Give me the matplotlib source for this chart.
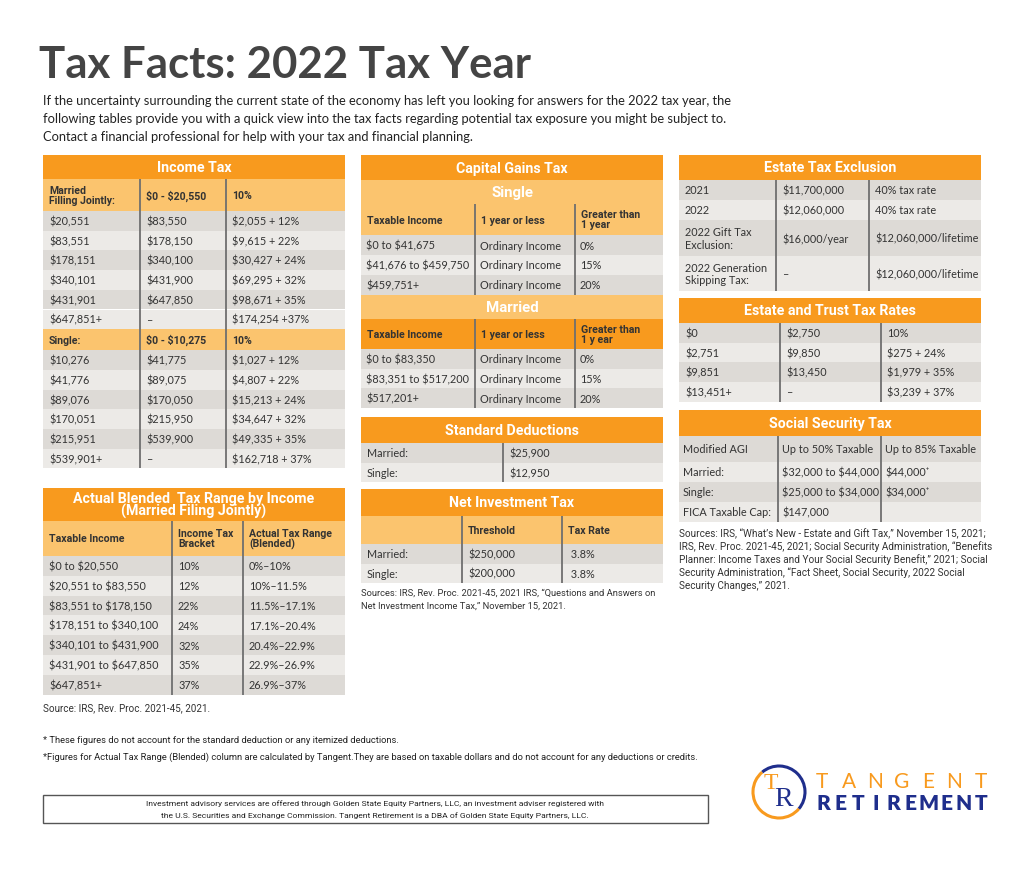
import matplotlib
matplotlib.use("Agg")
import matplotlib.pyplot as plt
from matplotlib.patches import Rectangle, Arc

plt.rcParams["text.parse_math"] = False

# ---------------- data ----------------
title = "Tax Facts: 2022 Tax Year"
intro = ["If the uncertainty surrounding the current state of the economy has left you looking for answers for the 2022 tax year, the",
         "following tables provide you with a quick view into the tax facts regarding potential tax exposure you might be subject to.",
         "Contact a financial professional for help with your tax and financial planning."]

income_married_head = ["Married\nFilling Jointly:", "$0 - $20,550", "10%"]
income_married_rows = [["$20,551", "$83,550", "$2,055 + 12%"],
                       ["$83,551", "$178,150", "$9,615 + 22%"],
                       ["$178,151", "$340,100", "$30,427 + 24%"],
                       ["$340,101", "$431,900", "$69,295 + 32%"],
                       ["$431,901", "$647,850", "$98,671 + 35%"],
                       ["$647,851+", "\u2013", "$174,254 +37%"]]
income_single_head = ["Single:", "$0 - $10,275", "10%"]
income_single_rows = [["$10,276", "$41,775", "$1,027 + 12%"],
                      ["$41,776", "$89,075", "$4,807 + 22%"],
                      ["$89,076", "$170,050", "$15,213 + 24%"],
                      ["$170,051", "$215,950", "$34,647 + 32%"],
                      ["$215,951", "$539,900", "$49,335 + 35%"],
                      ["$539,901+", "\u2013", "$162,718 + 37%"]]

blended_title = "Actual Blended  Tax Range by Income\n(Married Filing Jointly)"
blended_cols = ["Taxable Income", "Income Tax\nBracket", "Actual Tax Range\n(Blended)"]
blended_rows = [["$0 to $20,550", "10%", "0%\u201310%"],
                ["$20,551 to $83,550", "12%", "10%\u201311.5%"],
                ["$83,551 to $178,150", "22%", "11.5%\u201317.1%"],
                ["$178,151 to $340,100", "24%", "17.1%\u201320.4%"],
                ["$340,101 to $431,900", "32%", "20.4%\u201322.9%"],
                ["$431,901 to $647,850", "35%", "22.9%\u201326.9%"],
                ["$647,851+", "37%", "26.9%\u201337%"]]

cg_single_cols = ["Taxable Income", "1 year or less", "Greater than\n1 year"]
cg_single_rows = [["$0 to $41,675", "Ordinary Income", "0%"],
                  ["$41,676 to $459,750", "Ordinary Income", "15%"],
                  ["$459,751+", "Ordinary Income", "20%"]]
cg_married_cols = ["Taxable Income", "1 year or less", "Greater than\n1 y ear"]
cg_married_rows = [["$0 to $83,350", "Ordinary Income", "0%"],
                   ["$83,351 to $517,200", "Ordinary Income", "15%"],
                   ["$517,201+", "Ordinary Income", "20%"]]

std_rows = [["Married:", "$25,900"], ["Single:", "$12,950"]]

nii_cols = ["", "Threshold", "Tax Rate"]
nii_rows = [["Married:", "$250,000", " 3.8%"], ["Single:", "$200,000", " 3.8%"]]

estate_rows = [["2021", "$11,700,000", "40% tax rate"],
               ["2022", "$12,060,000", "40% tax rate"],
               ["2022 Gift Tax\nExclusion:", "$16,000/year", "$12,060,000/lifetime"],
               ["2022 Generation\nSkipping Tax:", "\u2013", "$12,060,000/lifetime"]]

trust_rows = [["$0", "$2,750", "10%"],
              ["$2,751", "$9,850", "$275 + 24%"],
              ["$9,851", "$13,450", "$1,979 + 35%"],
              ["$13,451+", "\u2013", "$3,239 + 37%"]]

ss_rows = [["Modified AGI", "Up to 50% Taxable", "Up to 85% Taxable"],
           ["Married:", "$32,000 to $44,000", "$44,000\u207a"],
           ["Single:", "$25,000 to $34,000", "$34,000\u207a"],
           ["FICA Taxable Cap:", "$147,000", ""]]

src_blended = "Source: IRS, Rev. Proc. 2021-45, 2021."
src_nii = ["Sources: IRS, Rev. Proc. 2021-45, 2021 IRS, \u201cQuestions and Answers on",
           "Net Investment Income Tax,\u201d November 15, 2021."]
src_ss = ["Sources: IRS, \u201cWhat\u2019s New - Estate and Gift Tax,\u201d November 15, 2021;",
          "IRS, Rev. Proc. 2021-45, 2021; Social Security Administration, \u201cBenefits",
          "Planner: Income Taxes and Your Social Security Benefit,\u201d 2021; Social",
          "Security Administration, \u201cFact Sheet, Social Security, 2022 Social",
          "Security Changes,\u201d 2021."]
notes = ["* These figures do not account for the standard deduction or any itemized deductions.",
         "*Figures for Actual Tax Range (Blended) column are calculated by Tangent.They are based on taxable dollars and do not account for any deductions or credits."]
disclaimer = ["Investment advisory services are offered through Golden State Equity Partners, LLC, an investment adviser registered with",
              "the U.S. Securities and Exchange Commission. Tangent Retirement is a DBA of Golden State Equity Partners, LLC."]
logo_top = "TANGENT"
logo_bottom = "RETIREMENT"

# ---------------- style ----------------
ORANGE = "#F89A1E"
LIGHT = "#FBC46E"
DARK_ROW = "#DDDAD6"
LIGHT_ROW = "#ECEAE7"
TXT = "#333333"
DIV = "#6f6f6f"
NAVY = "#1F2E8C"

BODY = ["Lato", "DejaVu Sans"]
COND = ["Roboto", "DejaVu Sans"]

fig = plt.figure(figsize=(10.24, 8.7), dpi=100)
ax = fig.add_axes([0, 0, 1, 1])
ax.set_xlim(0, 1024)
ax.set_ylim(870, 0)
ax.axis("off")


def band(text, x0, x1, y0, h, fc, tc="white", fs=10.2):
    ax.add_patch(Rectangle((x0, y0), x1 - x0, h, facecolor=fc, edgecolor="none"))
    ax.text((x0 + x1) / 2, y0 + h / 2, text, ha="center", va="center", color=tc,
            fontsize=fs, fontweight="bold", family=COND, linespacing=0.85)
    return y0 + h


def rows_block(rows, edges, y0, h, fc=None, fs=7.8, weight="normal", fam=BODY, pad=6,
               hs=None, lsp=1.1):
    y = y0
    for i, r in enumerate(rows):
        rh = hs[i] if hs else h
        c = fc if fc else (DARK_ROW if i % 2 == 0 else LIGHT_ROW)
        ax.add_patch(Rectangle((edges[0], y), edges[-1] - edges[0], rh, facecolor=c, edgecolor="none"))
        for j, cell in enumerate(r):
            ax.text(edges[j] + pad, y + rh / 2, cell, ha="left", va="center", color=TXT,
                    fontsize=fs, fontweight=weight, family=fam, linespacing=lsp)
        for xe in edges[1:-1]:
            ax.plot([xe, xe], [y, y + rh], color=DIV, lw=1.3, solid_capstyle="butt")
        y += rh
    return y


# ---------------- header ----------------
ax.text(39, 78, title, fontsize=31.5, fontweight="bold", color="#444444", family=BODY, va="baseline")
for i, line in enumerate(intro):
    ax.text(43, 101 + i * 18, line, fontsize=9.25, color="#222222", family=BODY, va="center")

# ---------------- column 1 ----------------
c1 = [43, 140, 226, 345]
y = band("Income Tax", c1[0], c1[-1], 156, 24, ORANGE)
y = rows_block([income_married_head], c1, y, 32, fc=LIGHT, fs=7.6, weight="bold", fam=COND, lsp=1.0)
y = rows_block(income_married_rows, c1, y, 19.7)
y = rows_block([income_single_head], c1, y, 21, fc=LIGHT, fs=7.6, weight="bold", fam=COND)
y = rows_block(income_single_rows, c1, y, 19.7)

b1 = [43, 172, 243, 345]
y = band(blended_title, b1[0], b1[-1], 489, 33, ORANGE, fs=10.2)
y = rows_block([blended_cols], b1, y, 35, fc=LIGHT, fs=7.6, weight="bold", fam=COND, lsp=1.0)
y = rows_block(blended_rows, b1, y, 19.8)
ax.text(43, 708, src_blended, fontsize=7.1, color="#333333", family=COND, va="center")

# ---------------- column 2 ----------------
c2 = [361, 475, 575, 663]
y = band("Capital Gains Tax", c2[0], c2[-1], 156, 25, ORANGE)
y = band("Single", c2[0], c2[-1], y, 24, LIGHT, fs=10.8)
y = rows_block([cg_single_cols], c2, y, 31, fc=LIGHT, fs=7.6, weight="bold", fam=COND, lsp=1.0)
y = rows_block(cg_single_rows, c2, y, 20, pad=5)
y = band("Married", c2[0], c2[-1], y, 24, LIGHT, fs=10.8)
y = rows_block([cg_married_cols], c2, y, 30, fc=ORANGE, fs=7.6, weight="bold", fam=COND, lsp=1.0)
y = rows_block(cg_married_rows, c2, y, 19.7, pad=5)

s2 = [361, 503, 663]
y = band("Standard Deductions", s2[0], s2[-1], 418, 26, ORANGE)
y = rows_block(std_rows, s2, y, 19.7)

n2 = [361, 462, 562, 663]
y = band("Net Investment Tax", n2[0], n2[-1], 490, 27, ORANGE)
y = rows_block([nii_cols], n2, y, 28, fc=LIGHT, fs=7.6, weight="bold", fam=COND)
y = rows_block(nii_rows, n2, y, 19.5)
for i, line in enumerate(src_nii):
    ax.text(361, 593 + i * 13, line, fontsize=6.75, color="#333333", family=COND, va="center")

# ---------------- column 3 ----------------
e3 = [679, 776, 869, 981]
y = band("Estate Tax Exclusion", e3[0], e3[-1], 156, 25, ORANGE)
y = rows_block(estate_rows, e3, y, 20, hs=[20, 20, 36, 35], lsp=1.15)

t3 = [679, 780, 881, 981]
y = band("Estate and Trust Tax Rates", t3[0], t3[-1], 299, 25, ORANGE)
y = rows_block(trust_rows, t3, y, 19.7)

ss3 = [679, 778, 881, 981]
y = band("Social Security Tax", ss3[0], ss3[-1], 411, 26, ORANGE)
y = rows_block(ss_rows, ss3, y, 20, hs=[26, 20, 20, 20], pad=4)
for i, line in enumerate(src_ss):
    ax.text(679, 534 + i * 13, line, fontsize=7.2, color="#333333", family=COND, va="center")

# ---------------- footer ----------------
for i, line in enumerate(notes):
    ax.text(43, 741 + i * 16, line, fontsize=6.75, color="#222222", family=COND, va="center")
ax.add_patch(Rectangle((43, 796), 665, 28, facecolor="white", edgecolor="#555555", lw=1))
for i, line in enumerate(disclaimer):
    ax.text(375, 804 + i * 12, line, fontsize=6.1, color="#222222", family=COND, ha="center", va="center")

# logo
ax.add_patch(Arc((779, 793), 52, 52, theta1=40, theta2=230, color=ORANGE, lw=2.2))
ax.add_patch(Arc((779, 793), 52, 52, theta1=230, theta2=400, color=NAVY, lw=2.2))
ax.text(771, 784, "T", fontsize=17, color=ORANGE, family=["Liberation Serif"], ha="center", va="center")
ax.text(784, 800, "R", fontsize=20, color=NAVY, family=["Liberation Serif"], ha="center", va="center")
for k, ch in enumerate(logo_top):
    ax.text(822 + k * 26.5, 782, ch, fontsize=15, color=ORANGE, family=BODY, ha="center", va="center")
for k, ch in enumerate(logo_bottom):
    ax.text(823 + k * 17.6, 804, ch, fontsize=15, fontweight="heavy", color=NAVY, family=BODY, ha="center", va="center")

fig.savefig("out.png", dpi=100, facecolor="white")
